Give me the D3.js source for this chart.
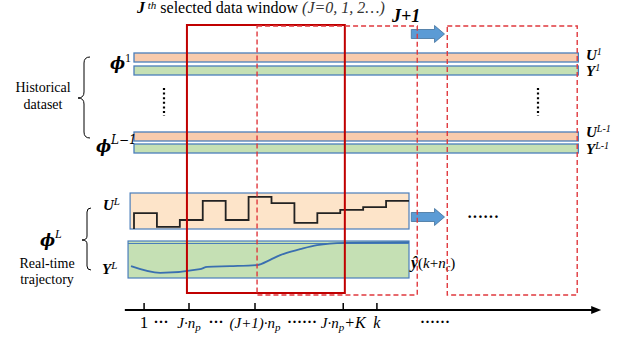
<!DOCTYPE html>
<html>
<head>
<meta charset="utf-8">
<script src="https://cdn.jsdelivr.net/npm/d3@7"></script>
<style>
  body { margin: 0; background: #fff; }
  svg { display: block; }
</style>
</head>
<body>
<svg id="chart" width="626" height="337"></svg>
<script>
const width = 626;
const height = 337;
const serif = "'Liberation Serif', 'Times New Roman', serif";

// time axis: one unit = one input step
const uSteps = [0.44, 0.06, 0.25, 0.78, 0.25, 0.89, 0.72, 0.17, 0.44, 0.53, 0.61, 0.78];
const yTraj = [[-0.13, 0.32], [1.14, 0.14], [2.88, 0.24], [3.19, 0.30], [4.19, 0.32],
               [5.37, 0.35], [5.94, 0.49], [6.38, 0.62], [7.25, 0.78], [7.99, 0.89],
               [9.2, 0.95], [12, 0.97]];
const tickTimes = [0.44, 2.4, 5.28, 9.13, 10.6];
const gapTimes = [1.18, 3.58, 7.33, 13.13];
const gapLabels = ["···", "···", "······", "······"];
const windows = [
    { t0: 2.31, t1: 9.2, solid: true },
    { t0: 5.37, t1: 12.36, solid: false },
    { t0: 13.67, t1: 19.34, solid: false }
];
const histRows = [
    { label: "U", sup: "1", kind: "U" },
    { label: "Y", sup: "1", kind: "Y" },
    { label: "U", sup: "L-1", kind: "U" },
    { label: "Y", sup: "L-1", kind: "Y" }
];

const svg = d3.select("#chart");
const x = d3.scaleLinear().domain([0, 12]).range([134, 409]);
const uScale = d3.scaleLinear().domain([0, 1]).range([229, 193]);
const yScale = d3.scaleLinear().domain([0, 1]).range([278, 241]);

const orange = "#f8cbad";
const green = "#c5e0b4";
const blueEdge = "#4a7ebb";

// rich text with super/subscripts
function rich(g, px, py, segs, anchor) {
    const t = g.append("text").attr("x", px).attr("y", py)
        .attr("font-family", serif)
        .attr("text-anchor", anchor || "start");
    let shift = 0;
    segs.forEach(s => {
        const sh = s.shift || 0;
        t.append("tspan")
            .attr("dy", sh - shift)
            .attr("font-family", s.fam || serif)
            .attr("font-size", s.size || 15)
            .attr("font-weight", s.bold ? "bold" : "normal")
            .attr("font-style", s.it ? "italic" : "normal")
            .attr("fill", s.color || "#000")
            .text(s.t);
        shift = sh;
    });
    return t;
}

// title
rich(svg, 137, 13, [
    { t: "J", bold: true, it: true, size: 16 },
    { t: " th", it: true, size: 11, shift: -4 },
    { t: " selected data window ", size: 16, shift: 0 },
    { t: "(J=0, 1, 2…)", it: true, size: 16, color: "#333" }
]);
rich(svg, 392, 22, [{ t: "J+1", bold: true, it: true, size: 18 }]);

// historical bars
const rowY = [53, 66, 132, 144];
const barH = 9;
svg.selectAll("rect.hist").data(histRows).enter().append("rect")
    .attr("class", "hist")
    .attr("x", x(0)).attr("width", x(19.39) - x(0))
    .attr("y", (d, i) => rowY[i]).attr("height", barH)
    .attr("fill", d => d.kind === "U" ? orange : green)
    .attr("stroke", blueEdge).attr("stroke-width", 1.3);

const labelY = [60, 76, 137, 154];
histRows.forEach((d, i) => {
    rich(svg, 586, labelY[i], [
        { t: d.label, bold: true, it: true, size: 15 },
        { t: d.sup, it: true, size: 10, shift: -5 }
    ]);
});

// phi labels for history
const phiFam = "'DejaVu Serif', serif";
rich(svg, 110, 69, [
    { t: "ϕ", bold: true, it: true, size: 16, fam: phiFam },
    { t: "1", size: 12, shift: -7 }
]);
rich(svg, 96, 152, [
    { t: "ϕ", bold: true, it: true, size: 16, fam: phiFam },
    { t: "L−1", it: true, size: 12, shift: -8, fam: phiFam }
]);

// vertical dotted ellipsis
[164, 538].forEach(px => {
    svg.append("line").attr("x1", px).attr("x2", px).attr("y1", 88).attr("y2", 116)
        .attr("stroke", "#000").attr("stroke-width", 2.2).attr("stroke-dasharray", "2,2.6");
});

// braces
svg.append("path")
    .attr("d", "M90,57 Q84,57 84,63 L84,92 Q84,98 78,98 Q84,98 84,104 L84,132 Q84,138 90,138")
    .attr("fill", "none").attr("stroke", "#000").attr("stroke-width", 1);
svg.append("path")
    .attr("d", "M91,208 Q87,208 87,212 L87,236 Q87,240 82,240 Q87,240 87,244 L87,266 Q87,270 91,270")
    .attr("fill", "none").attr("stroke", "#000").attr("stroke-width", 1);

rich(svg, 43, 92, [{ t: "Historical", size: 14 }], "middle");
rich(svg, 43, 109, [{ t: "dataset", size: 14 }], "middle");
rich(svg, 47, 268, [{ t: "Real-time", size: 14 }], "middle");
rich(svg, 47, 284, [{ t: "trajectory", size: 14 }], "middle");
rich(svg, 40, 246, [
    { t: "ϕ", bold: true, it: true, size: 16, fam: phiFam },
    { t: "L", it: true, size: 12, shift: -8 }
]);

// real-time boxes
svg.append("rect")
    .attr("x", x(-0.17)).attr("width", x(12) - x(-0.17))
    .attr("y", uScale(1)).attr("height", uScale(0) - uScale(1))
    .attr("fill", "#fde4c9").attr("stroke", blueEdge).attr("stroke-width", 1.2);
svg.append("rect")
    .attr("x", x(-0.26)).attr("width", x(12) - x(-0.26))
    .attr("y", yScale(1)).attr("height", yScale(0) - yScale(1))
    .attr("fill", green).attr("stroke", blueEdge).attr("stroke-width", 1.2);
svg.append("line")
    .attr("x1", x(-0.26)).attr("x2", x(12))
    .attr("y1", yScale(1) + 2.5).attr("y2", yScale(1) + 2.5)
    .attr("stroke", blueEdge).attr("stroke-width", 1);

const uPts = [[0, 0]].concat(uSteps.map((v, i) => [i, v]), [[uSteps.length, uSteps[uSteps.length - 1]]]);
svg.append("path").datum(uPts)
    .attr("d", d3.line().x(d => x(d[0])).y(d => uScale(d[1])).curve(d3.curveStepAfter))
    .attr("fill", "none").attr("stroke", "#222").attr("stroke-width", 1.8);

svg.append("path").datum(yTraj)
    .attr("d", d3.line().x(d => x(d[0])).y(d => yScale(d[1])).curve(d3.curveMonotoneX))
    .attr("fill", "none").attr("stroke", "#3a6fb0").attr("stroke-width", 1.8);

rich(svg, 103, 210, [
    { t: "U", bold: true, it: true, size: 15 },
    { t: "L", it: true, size: 11, shift: -5 }
]);
rich(svg, 102, 274, [
    { t: "Y", bold: true, it: true, size: 15 },
    { t: "L", it: true, size: 11, shift: -5 }
]);

// arrows
function blockArrow(x0, x1, cy) {
    const head = 10;
    svg.append("path")
        .attr("d", `M${x0},${cy - 4.5} L${x1 - head},${cy - 4.5} L${x1 - head},${cy - 8.5} L${x1},${cy} L${x1 - head},${cy + 8.5} L${x1 - head},${cy + 4.5} L${x0},${cy + 4.5} Z`)
        .attr("fill", "#5b9bd5").attr("stroke", "#41719c").attr("stroke-width", 0.8);
}
blockArrow(x(12.1), x(13.55), 34);
blockArrow(x(12.1), x(13.55), 217);

rich(svg, 467, 222, [{ t: "······", bold: true, size: 16 }]);

// y-hat label
rich(svg, 411, 268, [
    { t: "ŷ", bold: true, it: true, size: 16 },
    { t: "(", size: 15 },
    { t: "k", it: true, size: 15 },
    { t: "+", size: 15 },
    { t: "n", it: true, size: 15 },
    { t: "c", it: true, size: 10, shift: 3 },
    { t: ")", size: 15, shift: 0 }
]);

// windows
windows.forEach(w => {
    svg.append("rect")
        .attr("x", x(w.t0)).attr("width", x(w.t1) - x(w.t0))
        .attr("y", w.solid ? 25 : 26).attr("height", w.solid ? 268 : 269)
        .attr("fill", "none")
        .attr("stroke", w.solid ? "#c00000" : "#e0393e")
        .attr("stroke-width", w.solid ? 2 : 1.4)
        .attr("stroke-dasharray", w.solid ? null : "5,3");
});

// time axis
const axisY = 310;
svg.append("line").attr("x1", x(-0.4)).attr("x2", x(20.2)).attr("y1", axisY).attr("y2", axisY)
    .attr("stroke", "#000").attr("stroke-width", 1.8);
svg.append("path")
    .attr("d", `M${x(20.3) + 2},${axisY} L${x(20.3) - 8},${axisY - 4} L${x(20.3) - 8},${axisY + 4} Z`)
    .attr("fill", "#000");
svg.selectAll("line.tick").data(tickTimes).enter().append("line")
    .attr("class", "tick")
    .attr("x1", d => x(d)).attr("x2", d => x(d))
    .attr("y1", axisY - 7).attr("y2", axisY)
    .attr("stroke", "#000").attr("stroke-width", 1.5);

const tickLabels = [
    [{ t: "1", size: 17 }],
    [{ t: "J·n", it: true, size: 15 }, { t: "p", it: true, size: 11, shift: 3 }],
    [{ t: "(J+1)·n", it: true, size: 15 }, { t: "p", it: true, size: 11, shift: 3 }],
    [{ t: "J·n", it: true, size: 15 }, { t: "p", it: true, size: 11, shift: 3 }, { t: "+K", it: true, size: 16, shift: 0 }],
    [{ t: "k", it: true, size: 16 }]
];
tickTimes.forEach((tt, i) => rich(svg, x(tt), 328, tickLabels[i], "middle"));
gapTimes.forEach((tt, i) => rich(svg, x(tt), 327, [{ t: gapLabels[i], bold: true, size: 15 }], "middle"));
</script>
</body>
</html>
